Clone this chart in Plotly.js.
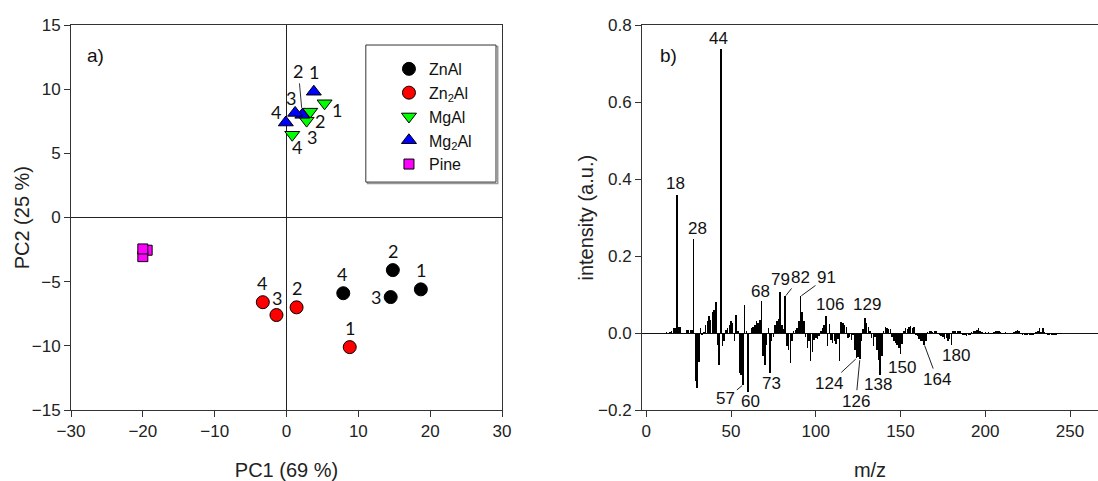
<!DOCTYPE html>
<html><head><meta charset="utf-8">
<script src="https://cdn.plot.ly/plotly-3.0.1.min.js"></script>
<style>html,body{margin:0;padding:0;background:#fff;overflow:hidden}</style>
</head><body><div id="chart" style="width:1098px;height:481px"></div>
<script>
// ---- Panel a) PCA scores ----
const sampleIds = ["1","2","3","4"];
const znalX = [18.7, 14.8, 14.5, 7.9];
const znalY = [-5.6, -4.1, -6.2, -5.9];
const zn2alX = [8.8, 1.4, -1.4, -3.3];
const zn2alY = [-10.1, -7.0, -7.6, -6.6];
const mgalX = [5.3, 3.3, 2.8, 0.8];
const mgalY = [8.9, 8.25, 7.55, 6.45];
const mg2alX = [3.8, 2.2, 1.2, -0.1];
const mg2alY = [9.8, 8.0, 8.15, 7.4];
const pineX = [-19.4, -20.0, -20.0];
const pineY = [-2.55, -3.05, -2.45];

// ---- Panel b) loadings spectrum ----
const mz = [12,13,14,15,16,17,18,19,20,21,22,23,24,25,26,27,28,29,30,31,32,33,34,35,36,37,38,39,40,41,42,43,44,45,46,47,48,49,50,51,52,53,54,55,56,57,58,59,60,61,62,63,64,65,66,67,68,69,70,71,72,73,74,75,76,77,78,79,80,81,82,83,84,85,86,87,88,89,90,91,92,93,94,95,96,97,98,99,100,101,102,103,104,105,106,107,108,109,110,111,112,113,114,115,116,117,118,119,120,121,122,123,124,125,126,127,128,129,130,131,132,133,134,135,136,137,138,139,140,141,142,143,144,145,146,147,148,149,150,151,152,153,154,155,156,157,158,159,160,161,162,163,164,165,166,167,168,169,170,171,172,173,174,175,176,177,178,179,180,181,182,183,184,185,186,187,188,189,190,191,192,193,194,195,196,197,198,199,200,201,202,203,204,205,206,207,208,209,210,211,212,213,214,215,216,217,218,219,220,221,222,223,224,225,226,227,228,229,230,231,232,233,234,235,236,237,238,239,240,241,242,243,244,245,246,247,248,249,250];
const intensity = [0.002,0.001,0.003,0.004,0.012,0.014,0.359,0.016,0.015,-0.002,0.001,-0.003,0.008,0.008,0.007,0.009,0.245,-0.125,-0.143,-0.075,0.013,-0.004,0.002,0.02,0.03,0.043,0.035,0.055,0.06,0.08,-0.03,-0.082,0.738,-0.035,-0.02,0.008,0.012,0.02,0.03,0.025,-0.022,0.048,0.004,-0.105,-0.108,-0.135,0.072,0.004,-0.152,-0.003,0.012,0.015,0.02,0.03,0.025,0.035,0.084,-0.06,-0.082,-0.03,0.012,-0.104,-0.02,-0.01,0.02,0.03,0.036,0.107,0.02,0.01,0.095,-0.035,-0.045,-0.077,-0.02,0.005,0.008,0.012,0.03,0.095,0.055,0.03,-0.01,-0.04,-0.02,-0.073,-0.05,-0.018,-0.012,-0.015,-0.008,0.005,0.012,0.022,0.045,-0.035,0.024,-0.018,-0.025,-0.02,-0.028,-0.015,-0.074,0.028,0.026,0.02,0.015,-0.012,-0.01,-0.018,-0.005,-0.045,-0.066,-0.062,-0.068,-0.02,0.01,0.039,0.027,0.015,0.005,-0.012,-0.035,-0.01,-0.045,-0.07,-0.108,-0.06,0.005,0.015,0.012,0.01,0.01,-0.01,-0.02,-0.025,-0.03,-0.04,-0.055,-0.028,0.005,0.012,0.01,0.015,0.018,0.012,0.015,-0.005,-0.008,-0.015,-0.02,-0.022,-0.03,-0.02,0.003,0.005,0.004,0.002,0.006,0.005,-0.003,-0.006,-0.008,-0.01,-0.015,-0.012,-0.02,-0.015,-0.03,0.004,0.005,-0.002,0.004,0.005,-0.003,-0.005,-0.006,-0.007,-0.005,-0.004,0.003,0.004,0.006,0.008,0.012,0.005,0.002,-0.002,0.003,-0.003,0.002,-0.002,-0.003,0.002,0.004,0.006,0.005,0.002,-0.003,-0.002,0.002,-0.002,0.001,-0.002,-0.003,0.002,0.004,0.008,0.004,-0.003,-0.004,-0.005,-0.005,-0.004,-0.006,-0.005,-0.004,-0.003,0.003,0.004,0.012,0.002,0.012,0.003,-0.003,-0.005,-0.006,-0.006,-0.005,-0.006,-0.004,-0.003,-0.002,-0.003,0.001,-0.001,0.001,-0.001,0.001];
const peakLabels = [18,28,44,68,79,82,91,106,129,57,60,73,124,126,138,150,164,180];

// ---- styling / label placement (pixels) ----
const FONT = "Liberation Sans, Arial, sans-serif";
const NUMFONT = "Lato, Open Sans, sans-serif";
const scoreLabelOffsets = {
  ZnAl:  [[0,19],[0,19],[-15,0],[-1,19]],
  Zn2Al: [[0,19],[0,19],[1,17],[-1,19]],
  MgAl:  [[12,-7],[10,-9],[5,-16],[5,-12]],
  Mg2Al: [[0,20],null,[-4,15],[-10,11]]
};
const peakOffsets = {18:[-1,11],28:[4,10],44:[-2,10],68:[-1,9],79:[0,12],106:[4,11],129:[2,13],
  60:[3,-10],73:[2,-10],138:[-2,-10],150:[1,-13],180:[5,-11]};
const peakLeaders = {82:[15,-19],91:[26,-19],57:[-17,14],124:[-27,25],126:[-4,42],164:[13,35]};

const series = [
  {name:"ZnAl", x:znalX, y:znalY, color:"#000000", symbol:"circle", size:13},
  {name:"Zn<sub>2</sub>Al", key:"Zn2Al", x:zn2alX, y:zn2alY, color:"#ff0000", symbol:"circle", size:13},
  {name:"MgAl", x:mgalX, y:mgalY, color:"#00ff00", symbol:"triangle-down", size:13},
  {name:"Mg<sub>2</sub>Al", key:"Mg2Al", x:mg2alX, y:mg2alY, color:"#0000ff", symbol:"triangle-up", size:13},
  {name:"Pine", x:pineX, y:pineY, color:"#ff00ff", symbol:"square", size:10}
];

const traces = series.map(s => ({
  type:"scatter", mode:"markers", name:s.name, x:s.x, y:s.y, xaxis:"x", yaxis:"y",
  marker:{color:s.color, symbol:s.symbol, size:s.size, line:{color:"#000", width:1}},
  hoverinfo:"x+y"
}));
traces.push({
  type:"bar", x:mz, y:intensity, xaxis:"x2", yaxis:"y2", showlegend:false,
  width:0.9, marker:{color:"#000", line:{width:0}}
});

const annotations = [];
series.forEach(s => {
  const key = s.key || s.name;
  const offs = scoreLabelOffsets[key];
  if (!offs) return;
  s.x.forEach((xv,i) => {
    const o = offs[i];
    if (o) {
      annotations.push({xref:"x", yref:"y", x:xv, y:s.y[i], text:sampleIds[i], showarrow:false,
        xshift:o[0], yshift:o[1], font:{family:NUMFONT, size:18, color:"#111"}});
    }
  });
});
// Mg2Al "2" with leader line
annotations.push({xref:"x", yref:"y", x:mg2alX[1], y:mg2alY[1], text:sampleIds[1], showarrow:true,
  arrowhead:0, arrowwidth:1, arrowcolor:"#333", ax:-4, ay:-44, standoff:7,
  font:{family:NUMFONT, size:18, color:"#111"}});

peakLabels.forEach(m => {
  const v = intensity[mz.indexOf(m)];
  if (peakLeaders[m]) {
    const o = peakLeaders[m];
    annotations.push({xref:"x2", yref:"y2", x:m, y:v, text:String(m), showarrow:true,
      arrowhead:0, arrowwidth:1, arrowcolor:"#222", ax:o[0], ay:o[1], standoff:1,
      font:{family:FONT, size:17, color:"#111"}});
  } else {
    const o = peakOffsets[m];
    annotations.push({xref:"x2", yref:"y2", x:m, y:v, text:String(m), showarrow:false,
      xshift:o[0], yshift:o[1], font:{family:FONT, size:17, color:"#111"}});
  }
});
annotations.push({xref:"x domain", yref:"y domain", x:0.032, y:0.953, text:"a)", showarrow:false,
  font:{family:FONT, size:19, color:"#111"}});
annotations.push({xref:"x2 domain", yref:"y2 domain", x:0.035, y:0.953, text:"b)", showarrow:false,
  font:{family:FONT, size:19, color:"#111"}});
// y-axis titles
annotations.push({xref:"x domain", yref:"y domain", x:-0.114, y:0.5, xanchor:"center", yanchor:"middle",
  text:"PC2 (25 %)", textangle:-90, showarrow:false, font:{family:FONT, size:20, color:"#222"}});
annotations.push({xref:"x2 domain", yref:"y2 domain", x:-0.125, y:0.5, xanchor:"center", yanchor:"middle",
  text:"intensity (a.u.)", textangle:-90, showarrow:false, font:{family:FONT, size:20, color:"#222"}});

const axisCommon = {showgrid:false, showline:true, linecolor:"#333", linewidth:1, ticks:"outside",
  ticklen:6, tickcolor:"#333", tickfont:{family:FONT, size:17, color:"#222"}};

const layout = {
  width:1098, height:481, margin:{l:71, r:0, t:25, b:71},
  paper_bgcolor:"#fff", plot_bgcolor:"#fff", showlegend:true, bargap:0,
  xaxis:Object.assign({}, axisCommon, {domain:[0,0.4197], range:[-30,30], dtick:10, mirror:true,
    zeroline:true, zerolinecolor:"#222", zerolinewidth:1.2,
    title:{text:"PC1 (69 %)", font:{family:FONT, size:20, color:"#222"}, standoff:22}}),
  yaxis:Object.assign({}, axisCommon, {domain:[0,1], range:[-15,15], dtick:5, mirror:true,
    zeroline:true, zerolinecolor:"#222", zerolinewidth:1.2}),
  xaxis2:Object.assign({}, axisCommon, {domain:[0.556,1], range:[-2.5,266.5], dtick:50, mirror:true,
    zeroline:false, anchor:"y2",
    title:{text:"m/z", font:{family:FONT, size:20, color:"#222"}, standoff:24}}),
  yaxis2:Object.assign({}, axisCommon, {domain:[0,1], range:[-0.2,0.8], dtick:0.2, tickformat:".1f",
    anchor:"x2", zeroline:true, zerolinecolor:"#111", zerolinewidth:1}),
  legend:{x:0.3096, y:0.93, xanchor:"left", yanchor:"top", bgcolor:"rgba(0,0,0,0)", borderwidth:0,
    font:{family:FONT, size:16, color:"#111"}, tracegroupgap:0},
  shapes:[
    {type:"rect", xref:"x domain", yref:"y domain", x0:0.688, x1:0.990, y0:0.588, y1:0.944,
      line:{color:"#999", width:1.5}, layer:"below"},
    {type:"rect", xref:"x domain", yref:"y domain", x0:0.684, x1:0.986, y0:0.592, y1:0.948,
      line:{color:"#333", width:1}, fillcolor:"#fff", layer:"below"}
  ],
  annotations:annotations
};
Plotly.newPlot("chart", traces, layout, {staticPlot:true, displayModeBar:false});
</script></body></html>
